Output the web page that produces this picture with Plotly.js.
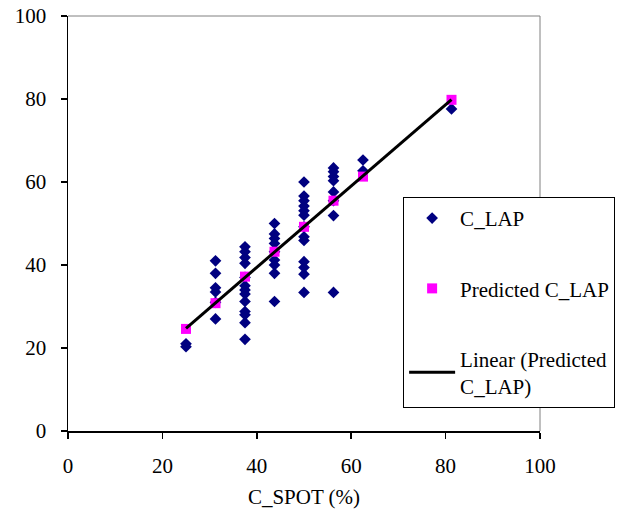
<!DOCTYPE html>
<html>
<head>
<meta charset="utf-8">
<script src="https://cdn.plot.ly/plotly-3.0.1.min.js"></script>
<style>html,body{margin:0;padding:0;background:#fff;}#chart{width:634px;height:520px;}</style>
</head>
<body>
<div id="chart"></div>
<script>
// C_LAP observations (x = C_SPOT %, y = C_LAP)
const lapX = [
  25, 25,
  31.25, 31.25, 31.25, 31.25, 31.25, 31.25,
  37.5, 37.5, 37.5, 37.5, 37.5, 37.5, 37.5, 37.5, 37.5, 37.5, 37.5, 37.5, 37.5,
  43.75, 43.75, 43.75, 43.75, 43.75, 43.75, 43.75, 43.75, 43.75,
  50, 50, 50, 50, 50, 50, 50, 50, 50, 50, 50, 50, 50,
  56.25, 56.25, 56.25, 56.25, 56.25, 56.25, 56.25, 56.25,
  62.5, 62.5,
  81.25
];
const lapY = [
  21, 20.3,
  41, 38, 34.5, 33.5, 31, 27,
  44.4, 43.2, 41.8, 40.4, 37, 35, 34, 33, 31.2, 28.8, 28, 26.1, 22.1,
  50, 47.5, 46.4, 45.2, 43.2, 41.2, 40, 38, 31.2,
  60, 56.6, 55.5, 54.2, 53.1, 52, 49.2, 46.8, 45.9, 40.8, 39.4, 37.8, 33.4,
  63.4, 62.5, 61.3, 60.3, 57.6, 55.5, 51.9, 33.4,
  65.3, 62.7,
  77.6
];
// Predicted C_LAP
const predX = [25, 31.25, 37.5, 43.75, 50, 56.25, 62.5, 81.25];
const predY = [24.6, 30.8, 37.2, 43.2, 49.2, 55.5, 61.3, 79.8];

// X / Y axis ticks
const tickVals = [0, 20, 40, 60, 80, 100];

// Linear trendline of predicted values (least squares)
function linFit(xs, ys) {
  const n = xs.length;
  let sx = 0, sy = 0, sxx = 0, sxy = 0;
  for (let i = 0; i < n; i++) { sx += xs[i]; sy += ys[i]; sxx += xs[i]*xs[i]; sxy += xs[i]*ys[i]; }
  const b = (n*sxy - sx*sy) / (n*sxx - sx*sx);
  const a = (sy - b*sx) / n;
  return [a, b];
}
const [a, b] = linFit(predX, predY);
const xMin = Math.min(...predX), xMax = Math.max(...predX);
const trendX = [xMin, xMax];
const trendY = trendX.map(x => a + b*x);

const FONT = 'Liberation Serif, Times New Roman, serif';
const FS = 21;

const data = [
  {
    x: lapX, y: lapY, type: 'scatter', mode: 'markers', name: 'C_LAP',
    legendgroup: 'g1',
    marker: {symbol: 'diamond', size: 9, color: '#000080'}
  },
  {
    x: predX, y: predY, type: 'scatter', mode: 'markers', name: 'Predicted C_LAP',
    legendgroup: 'g2',
    marker: {symbol: 'square', size: 10, color: '#FF00FF'}
  },
  {
    x: trendX, y: trendY, type: 'scatter', mode: 'lines', name: 'Linear (Predicted<br>C_LAP)',
    legendgroup: 'g3',
    line: {color: '#000000', width: 3}
  }
];

const layout = {
  width: 634, height: 520,
  margin: {l: 68, r: 94, t: 16, b: 89, autoexpand: false},
  paper_bgcolor: '#ffffff', plot_bgcolor: '#ffffff',
  font: {family: FONT, size: FS, color: '#000000'},
  showlegend: true,
  legend: {
    x: 0.71, y: 0.564, xanchor: 'left', yanchor: 'top',
    bordercolor: '#000000', borderwidth: 1, bgcolor: '#ffffff',
    font: {family: FONT, size: FS, color: '#000000'},
    traceorder: 'grouped', tracegroupgap: 40,
    itemwidth: 46,
    entrywidth: 230
  },
  xaxis: {
    range: [0, 100], tickvals: tickVals, ticktext: tickVals.map(String),
    showgrid: false, zeroline: false, showline: true, linecolor: '#000', linewidth: 1.5,
    ticks: 'outside', ticklen: 6, tickcolor: '#000', tickwidth: 1.5,
    ticklabelstandoff: 9,
    tickfont: {family: FONT, size: FS, color: '#000'},
    title: {text: 'C_SPOT (%)', font: {family: FONT, size: FS, color: '#000'}, standoff: 12}
  },
  yaxis: {
    range: [0, 100], tickvals: tickVals, ticktext: tickVals.map(String),
    showgrid: false, zeroline: false, showline: true, linecolor: '#000', linewidth: 1.5,
    ticks: 'outside', ticklen: 6, tickcolor: '#000', tickwidth: 1.5,
    ticklabelstandoff: 10,
    tickfont: {family: FONT, size: FS, color: '#000'}
  },
  shapes: [
    {type: 'line', xref: 'paper', yref: 'paper', x0: 0, x1: 1, y0: 1, y1: 1, line: {color: '#808080', width: 1}},
    {type: 'line', xref: 'paper', yref: 'paper', x0: 1, x1: 1, y0: 0, y1: 1, line: {color: '#808080', width: 1}}
  ]
};

Plotly.newPlot('chart', data, layout, {staticPlot: true, displayModeBar: false});
</script>
</body>
</html>
